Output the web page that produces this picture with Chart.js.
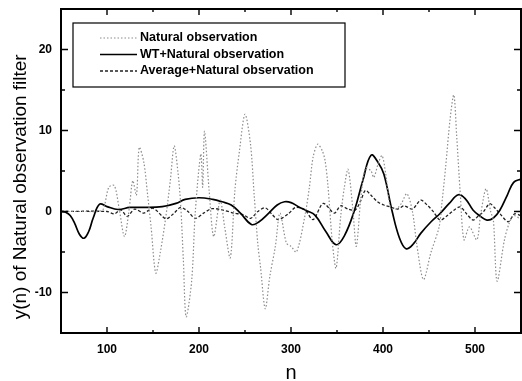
<!DOCTYPE html>
<html lang="en">
<head>
  <meta charset="UTF-8">
  <title>y(n) of Natural observation filter</title>
  <script src="https://cdn.jsdelivr.net/npm/chart.js"></script>
  <style>
    html, body { margin: 0; padding: 0; background: #fff; overflow: hidden; }
    #wrap { width: 522px; height: 381px; }
  </style>
</head>
<body>
  <div id="wrap"><canvas id="filterChart"></canvas></div>
  <script>
    // Natural observation (raw signal)
    var natX = [50, 60, 70, 80, 90, 96, 102, 108, 113, 119, 124, 128, 132, 135, 140, 144, 148, 153, 158, 164,
      169, 173, 177, 180, 183, 186, 192, 196, 202, 204, 206, 211, 216, 223, 228, 234, 239, 244, 250, 256,
      260, 264, 267, 272, 277, 283, 288, 295, 300, 306, 315, 320, 324, 329, 334, 337, 340, 345, 349, 354,
      358, 362, 367, 371, 376, 381, 387, 390, 395, 399, 403, 408, 414, 420, 426, 432, 437, 444, 452, 461,
      464, 468, 473, 477, 480, 484, 488, 494, 502, 506, 512, 517, 520, 524, 532, 537, 542, 550];
    var natY = [0, 0, 0, 0, 0, 0.3, 3.0, 3.2, 0.5, -3.1, 0.2, 3.8, 2, 7.9, 6.1, 2.2, -2, -7.6, -5, -0.6,
      4, 8.1, 5, 1, -6, -13, -8.6, 0, 7.1, 3, 9.9, 2.6, -3.1, 1.4, -2, -5.7, 2.6, 7.5, 12, 8.3,
      2, -4.1, -7, -12, -8, -4.3, -0.2, -3.9, -4.3, -5, -0.6, 3, 6.7, 8.3, 7.5, 6.3, 3.4, -3.9, -7, -0.6,
      3, 5.2, 0.6, -4.3, 1.8, 5.4, 5, 4.2, 6, 6.9, 4.6, 0.6, 0.3, 1, 2.2, 0, -4.3, -8.4, -5.1, -1.9,
      1, 5.4, 11.5, 14.4, 9.5, 2.2, -3.5, -1.9, -3.5, -0.5, 2.8, 0, -1.1, -8.6, -3.5, -1.5, -0.5, -1];

    // WT + Natural observation
    var wtX = [50, 55, 60, 65, 70, 75, 80, 85, 92, 100, 112, 125, 140, 160, 175, 185, 200, 215, 225, 235,
      245, 257, 265, 275, 285, 293, 300, 308, 317, 326, 338, 349, 358, 369, 378, 387, 395, 401, 410, 418,
      425, 433, 441, 452, 462, 472, 482, 490, 498, 506, 513, 520, 527, 535, 542, 550];
    var wtY = [0, -0.1, -0.5, -1.5, -2.8, -3.3, -2.5, -0.8, 0.9, 0.6, 0.25, 0.5, 0.5, 0.6, 1.0, 1.5, 1.7, 1.5, 1.2, 0.8,
      -0.2, -1.6, -1.3, -0.3, 0.8, 1.2, 1.1, 0.6, 0.1, -0.45, -2.5, -4.1, -3.0, 0.15, 3.8, 6.95, 6.0, 4.6, 0, -3.3,
      -4.6, -4.0, -2.7, -1.3, -0.25, 1.0, 2.07, 1.5, 0.16, -0.6, -1.06, -0.8, 0.16, 2.0, 3.6, 4.0];

    // Average + Natural observation
    var avgX = [50, 100, 108, 115, 122, 130, 140, 150, 164, 172, 180, 188, 196, 205, 214, 225, 238, 248, 256, 264,
      272, 279, 286, 297, 305, 315, 324, 335, 347, 354, 362, 370, 376, 381, 387, 394, 401, 408, 416, 423,
      432, 441, 448, 455, 462, 470, 477, 484, 491, 498, 504, 509, 516, 521, 527, 536, 543, 550];
    var avgY = [0, 0, -0.3, 0.2, -0.6, 0.3, -0.2, 0.4, -0.9, -0.3, 0.5, 0, -0.85, -0.2, 0.35, 0.2, -0.2, -0.4, -0.85, 0,
      0.45, -0.3, -1.0, -0.3, 0.5, 0.2, -1, 1.0, -0.2, 0.7, 0.3, 0.2, 1.4, 2.6, 2.0, 1.2, 0.8, 0.56, 0.3, 0.7,
      0.3, 1.4, 0.8, -0.05, -1.06, -0.5, 0.16, 0.56, -0.3, -1.06, -0.5, -0.05, 0.97, 0.5, -0.25, -1.27, -0.3, -0.5];

    var seriesNames = ['Natural observation', 'WT+Natural observation', 'Average+Natural observation'];
    var xTicks = [100, 200, 300, 400, 500];
    var yTicks = [-10, 0, 10, 20];

    function pts(xs, ys) {
      return xs.map(function (x, i) { return { x: x, y: ys[i] }; });
    }

    // frame with inward ticks on all four sides
    var frameTicks = {
      id: 'frameTicks',
      afterDraw: function (chart) {
        var ctx = chart.ctx, a = chart.chartArea;
        var xs = chart.scales.x, ys = chart.scales.y;
        ctx.save();
        ctx.strokeStyle = '#000';
        ctx.lineWidth = 2;
        ctx.strokeRect(a.left, a.top, a.right - a.left, a.bottom - a.top);
        ctx.lineWidth = 1.4;
        ctx.beginPath();
        xs.ticks.forEach(function (t) {
          var px = xs.getPixelForValue(t.value);
          var len = xTicks.indexOf(t.value) >= 0 ? 6 : 3;
          ctx.moveTo(px, a.bottom); ctx.lineTo(px, a.bottom - len);
          ctx.moveTo(px, a.top); ctx.lineTo(px, a.top + len);
        });
        ys.ticks.forEach(function (t) {
          var py = ys.getPixelForValue(t.value);
          var len = yTicks.indexOf(t.value) >= 0 ? 7 : 4;
          ctx.moveTo(a.left, py); ctx.lineTo(a.left + len, py);
          ctx.moveTo(a.right, py); ctx.lineTo(a.right - len, py);
        });
        ctx.stroke();
        ctx.restore();
      }
    };

    // boxed legend in the upper left
    var boxLegend = {
      id: 'boxLegend',
      afterDraw: function (chart) {
        var ctx = chart.ctx;
        ctx.save();
        ctx.fillStyle = '#fff';
        ctx.fillRect(73, 23, 272, 64);
        ctx.strokeStyle = '#000';
        ctx.lineWidth = 1.2;
        ctx.strokeRect(73, 23, 272, 64);
        ctx.font = 'bold 12.5px "Liberation Sans", Arial, sans-serif';
        ctx.textBaseline = 'middle';
        ctx.fillStyle = '#000';
        chart.data.datasets.forEach(function (ds, i) {
          var y = 38 + i * 16.5;
          ctx.beginPath();
          ctx.strokeStyle = ds.borderColor;
          ctx.lineWidth = ds.borderWidth;
          ctx.setLineDash(ds.borderDash || []);
          ctx.moveTo(100, y); ctx.lineTo(137, y);
          ctx.stroke();
          ctx.setLineDash([]);
          ctx.fillText(ds.label, 140, y);
        });
        ctx.restore();
      }
    };

    var ctx = document.getElementById('filterChart').getContext('2d');
    var filterChart = new Chart(ctx, {
      type: 'line',
      data: {
        datasets: [{
          label: seriesNames[0],
          data: pts(natX, natY),
          borderColor: '#8c8c8c',
          borderWidth: 1.2,
          borderDash: [1.5, 2],
          tension: 0.3
        }, {
          label: seriesNames[1],
          data: pts(wtX, wtY),
          borderColor: '#000',
          borderWidth: 1.7,
          tension: 0.4
        }, {
          label: seriesNames[2],
          data: pts(avgX, avgY),
          borderColor: '#222',
          borderWidth: 1.3,
          borderDash: [3, 2],
          tension: 0.3
        }]
      },
      options: {
        responsive: true,
        maintainAspectRatio: false,
        animation: false,
        layout: { padding: { top: 9, right: 1, left: 0, bottom: 0 } },
        elements: { point: { radius: 0 } },
        plugins: {
          legend: { display: false },
          tooltip: { enabled: false }
        },
        scales: {
          x: {
            type: 'linear',
            min: 50,
            max: 550,
            grid: { display: false },
            border: { display: false },
            afterFit: function (s) {
              s.height = 48;
              s.paddingLeft = 0;
              s.paddingRight = 0;
            },
            ticks: {
              stepSize: 50,
              autoSkip: false,
              maxRotation: 0,
              padding: 1,
              color: '#000',
              font: { family: '"Liberation Sans", Arial, sans-serif', size: 12, weight: 'bold' },
              callback: function (v) { return xTicks.indexOf(v) >= 0 ? String(v) : ''; }
            },
            title: {
              display: true,
              text: 'n',
              color: '#000',
              padding: { top: 0, bottom: -4 },
              font: { family: '"Liberation Sans", Arial, sans-serif', size: 20 }
            }
          },
          y: {
            min: -15,
            max: 25,
            grid: { display: false },
            border: { display: false },
            afterFit: function (s) {
              s.width = 61;
              s.paddingTop = 0;
              s.paddingBottom = 0;
            },
            ticks: {
              stepSize: 5,
              autoSkip: false,
              padding: 1,
              color: '#000',
              font: { family: '"Liberation Sans", Arial, sans-serif', size: 12, weight: 'bold' },
              callback: function (v) { return yTicks.indexOf(v) >= 0 ? String(v) : ''; }
            },
            title: {
              display: true,
              text: 'y(n) of Natural observation filter      ',
              color: '#000',
              padding: { top: 9, bottom: 0 },
              font: { family: '"Liberation Sans", Arial, sans-serif', size: 19 }
            }
          }
        }
      },
      plugins: [frameTicks, boxLegend]
    });
  </script>
</body>
</html>
